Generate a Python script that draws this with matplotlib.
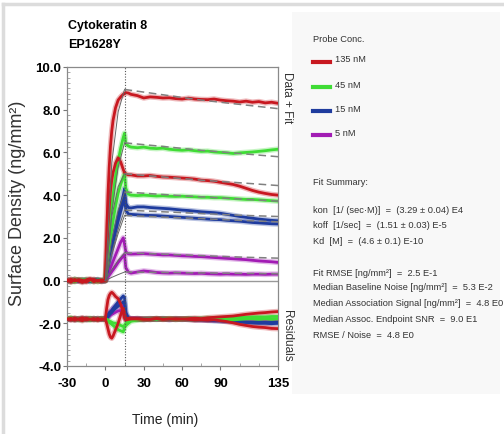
import matplotlib.pyplot as plt
from matplotlib.patches import Rectangle
from matplotlib.lines import Line2D
from matplotlib.ticker import MultipleLocator, FixedLocator

plt.rcParams['font.family'] = ['Liberation Sans', 'DejaVu Sans']
plt.rcParams['axes.unicode_minus'] = False

# time grid shared by all sensorgram traces (min)
time_min = [-30, -27, -24, -21, -18, -15, -12, -9, -6, -3, 0,
            1, 2, 3, 4, 5, 6, 8, 10, 12, 14, 15,
            16, 18, 20, 25, 30, 35, 40, 45, 50, 55, 60, 65, 70, 75, 80, 85, 90,
            95, 100, 105, 110, 115, 120, 125, 130, 135]

red_a = [0.05, -0.08, 0.06, -0.02, -0.09, 0.04, 0.08, -0.06, 0.02, -0.05, 0.0,
         2.0, 4.0, 5.3, 6.3, 7.0, 7.5, 8.1, 8.45, 8.6, 8.72, 8.75,
         8.8, 8.78, 8.72, 8.66, 8.55, 8.6, 8.58, 8.55, 8.56, 8.52, 8.5, 8.54, 8.5,
         8.48, 8.47, 8.5, 8.45, 8.42, 8.4, 8.36, 8.4, 8.35, 8.38, 8.32, 8.35, 8.3]
red_b = [-0.04, 0.07, -0.03, 0.05, 0.02, -0.07, 0.03, 0.06, -0.04, 0.03, 0.0,
         1.3, 2.5, 3.4, 4.2, 4.7, 5.05, 5.5, 5.75, 5.55, 5.2, 5.05,
         5.0, 4.95, 4.95, 4.9, 4.9, 4.92, 4.88, 4.85, 4.84, 4.82, 4.8, 4.78, 4.75,
         4.7, 4.68, 4.65, 4.6, 4.55, 4.5, 4.42, 4.32, 4.22, 4.14, 4.08, 4.03, 4.0]
green_a = [0.03, -0.05, 0.07, 0.01, -0.04, 0.06, -0.02, 0.04, -0.06, 0.02, 0.0,
           0.8, 1.6, 2.3, 3.0, 3.5, 4.0, 4.9, 5.6, 6.2, 6.7, 6.9,
           6.4, 6.3, 6.25, 6.22, 6.25, 6.2, 6.18, 6.2, 6.15, 6.12, 6.1, 6.12, 6.08,
           6.05, 6.06, 6.02, 6.0, 5.98, 5.95, 5.98, 6.0, 6.02, 6.05, 6.08, 6.12, 6.15]
green_b = [-0.02, 0.04, -0.06, 0.03, 0.05, -0.03, 0.02, -0.05, 0.04, -0.02, 0.0,
           0.5, 1.0, 1.5, 2.0, 2.4, 2.8, 3.5, 4.1, 4.5, 4.85, 5.0,
           4.3, 4.05, 4.0, 3.98, 4.0, 3.98, 3.96, 3.97, 3.95, 3.94, 3.95, 3.93, 3.92,
           3.9, 3.9, 3.88, 3.88, 3.86, 3.84, 3.82, 3.8, 3.8, 3.78, 3.76, 3.74, 3.72]
blue_a = [0.02, -0.04, 0.05, -0.03, 0.03, 0.01, -0.05, 0.04, 0.02, -0.03, 0.0,
          0.35, 0.7, 1.0, 1.35, 1.65, 1.95, 2.5, 3.0, 3.5, 4.0, 4.3,
          3.6, 3.42, 3.4, 3.45, 3.45, 3.42, 3.4, 3.38, 3.36, 3.33, 3.3, 3.28, 3.25,
          3.22, 3.2, 3.18, 3.15, 3.1, 3.05, 3.0, 2.96, 2.92, 2.88, 2.85, 2.82, 2.8]
blue_b = [-0.03, 0.02, -0.02, 0.04, -0.05, 0.03, 0.02, -0.03, 0.05, -0.02, 0.0,
          0.3, 0.62, 0.9, 1.2, 1.5, 1.78, 2.3, 2.8, 3.25, 3.65, 3.85,
          3.3, 3.12, 3.1, 3.08, 3.06, 3.05, 3.04, 3.02, 3.0, 2.98, 2.96, 2.94, 2.92,
          2.9, 2.88, 2.86, 2.85, 2.82, 2.8, 2.78, 2.75, 2.72, 2.7, 2.68, 2.66, 2.65]
purple_a = [0.02, 0.0, -0.03, 0.02, 0.01, -0.02, 0.03, -0.01, 0.02, -0.02, 0.0,
            0.15, 0.3, 0.45, 0.6, 0.75, 0.9, 1.2, 1.5, 1.8, 2.0, 1.7,
            1.35, 1.25, 1.24, 1.25, 1.26, 1.24, 1.22, 1.2, 1.2, 1.18, 1.16, 1.15, 1.13,
            1.12, 1.1, 1.08, 1.06, 1.04, 1.02, 1.0, 0.98, 0.95, 0.92, 0.9, 0.88, 0.85]
purple_b = [-0.01, 0.02, 0.01, -0.02, 0.02, 0.0, -0.01, 0.02, -0.02, 0.01, 0.0,
            0.08, 0.16, 0.25, 0.33, 0.42, 0.5, 0.67, 0.85, 1.0, 1.15, 1.2,
            0.6, 0.4, 0.35, 0.4, 0.45, 0.42, 0.38, 0.36, 0.35, 0.36, 0.35, 0.34, 0.33,
            0.34, 0.32, 0.31, 0.3, 0.31, 0.3, 0.3, 0.29, 0.3, 0.3, 0.29, 0.3, 0.3]

# residuals, drawn offset below the sensorgrams
res_red_a = [-1.78, -1.85, -1.75, -1.82, -1.88, -1.76, -1.8, -1.84, -1.77, -1.83, -1.8,
             -1.3, -0.9, -0.7, -0.6, -0.55, -0.6, -0.75, -0.85, -1.1, -1.5, -1.75,
             -1.85, -1.82, -1.8, -1.78, -1.8, -1.82, -1.78, -1.8, -1.79, -1.82, -1.8, -1.78, -1.76,
             -1.78, -1.74, -1.72, -1.7, -1.68, -1.66, -1.62, -1.58, -1.55, -1.52, -1.5, -1.47, -1.45]
res_red_b = [-1.82, -1.76, -1.86, -1.79, -1.74, -1.84, -1.81, -1.77, -1.86, -1.78, -1.8,
             -2.0, -2.25, -2.5, -2.65, -2.7, -2.6, -2.3, -2.0, -1.6, -1.3, -1.5,
             -1.8, -1.76, -1.78, -1.8, -1.82, -1.8, -1.78, -1.82, -1.8, -1.78, -1.8, -1.82, -1.85,
             -1.84, -1.86, -1.84, -1.88, -1.92, -1.98, -2.05, -2.1, -2.15, -2.18, -2.2, -2.24, -2.25]
res_green_a = [-1.8, -1.74, -1.83, -1.78, -1.85, -1.79, -1.76, -1.82, -1.8, -1.77, -1.8,
               -1.85, -1.9, -1.95, -2.0, -2.05, -2.1, -2.2, -2.3, -2.35, -2.4, -2.2,
               -2.1, -2.0, -1.9, -1.85, -1.82, -1.8, -1.82, -1.8, -1.78, -1.8, -1.8, -1.78, -1.8,
               -1.78, -1.76, -1.78, -1.76, -1.75, -1.74, -1.72, -1.72, -1.7, -1.7, -1.7, -1.68, -1.68]
res_green_b = [-1.77, -1.82, -1.79, -1.84, -1.78, -1.81, -1.85, -1.78, -1.82, -1.8, -1.8,
               -1.8, -1.85, -1.9, -1.92, -1.95, -1.98, -2.0, -2.05, -2.1, -2.15, -2.1,
               -2.0, -1.9, -1.85, -1.82, -1.8, -1.8, -1.78, -1.8, -1.8, -1.82, -1.8, -1.8, -1.82,
               -1.8, -1.82, -1.8, -1.82, -1.82, -1.84, -1.82, -1.8, -1.8, -1.82, -1.8, -1.82, -1.8]
res_blue_a = [-1.81, -1.78, -1.84, -1.8, -1.77, -1.83, -1.79, -1.82, -1.78, -1.81, -1.8,
              -1.7, -1.6, -1.5, -1.45, -1.4, -1.3, -1.15, -1.0, -0.85, -0.72, -0.8,
              -1.5, -1.75, -1.8, -1.78, -1.8, -1.82, -1.8, -1.78, -1.8, -1.8, -1.82, -1.8, -1.8,
              -1.82, -1.84, -1.86, -1.88, -1.9, -1.92, -1.94, -1.96, -1.98, -2.0, -2.0, -2.02, -2.0]
res_blue_b = [-1.79, -1.82, -1.78, -1.81, -1.83, -1.79, -1.8, -1.78, -1.82, -1.79, -1.8,
              -1.75, -1.7, -1.62, -1.55, -1.5, -1.42, -1.3, -1.2, -1.1, -1.0, -1.1,
              -1.6, -1.78, -1.8, -1.8, -1.82, -1.8, -1.8, -1.8, -1.82, -1.8, -1.8, -1.82, -1.84,
              -1.84, -1.86, -1.88, -1.88, -1.9, -1.9, -1.92, -1.94, -1.95, -1.95, -1.96, -1.96, -1.95]
res_purple_a = [-1.8, -1.82, -1.79, -1.81, -1.8, -1.78, -1.82, -1.8, -1.81, -1.79, -1.8,
                -1.72, -1.65, -1.55, -1.45, -1.38, -1.3, -1.2, -1.1, -1.15, -1.2, -1.5,
                -1.75, -1.8, -1.8, -1.82, -1.8, -1.78, -1.8, -1.8, -1.82, -1.8, -1.8, -1.8, -1.82,
                -1.82, -1.84, -1.84, -1.85, -1.86, -1.86, -1.87, -1.88, -1.88, -1.88, -1.87, -1.86, -1.86]
res_purple_b = [-1.81, -1.79, -1.8, -1.82, -1.79, -1.8, -1.81, -1.79, -1.8, -1.81, -1.8,
                -1.76, -1.72, -1.68, -1.62, -1.58, -1.55, -1.48, -1.42, -1.4, -1.45, -1.6,
                -1.82, -1.8, -1.8, -1.8, -1.82, -1.8, -1.8, -1.8, -1.82, -1.8, -1.8, -1.8, -1.82,
                -1.82, -1.8, -1.82, -1.82, -1.84, -1.84, -1.84, -1.84, -1.84, -1.83, -1.83, -1.82, -1.82]

# global fit curves
fit_assoc_t = [0, 5, 10, 15]
fit_dissoc_t = [15, 45, 75, 105, 135]
fit_red_a = ([0, 5.5, 7.9, 8.95], [8.95, 8.7, 8.45, 8.25, 8.05])
fit_red_b = ([0, 3.0, 4.4, 5.0], [5.0, 4.85, 4.7, 4.58, 4.45])
fit_green_a = ([0, 3.2, 5.3, 6.45], [6.45, 6.28, 6.1, 5.95, 5.8])
fit_green_b = ([0, 1.9, 3.3, 4.15], [4.15, 4.03, 3.92, 3.82, 3.72])
fit_blue_a = ([0, 1.3, 2.4, 3.3], [3.3, 3.22, 3.14, 3.06, 3.0])
fit_blue_b = ([0, 1.2, 2.2, 3.05], [3.05, 2.97, 2.9, 2.82, 2.75])
fit_purple_a = ([0, 0.5, 0.95, 1.3], [1.3, 1.24, 1.17, 1.1, 1.05])
fit_purple_b = ([0, 0.15, 0.28, 0.4], [0.4, 0.38, 0.36, 0.34, 0.32])

conc_labels = ['135 nM', '45 nM', '15 nM', '5 nM']
conc_colors = ['#c81820', '#3fdc35', '#1f3c9e', '#a21cb4']

summary_lines = [
    'kon  [1/ (sec·M)]  =  (3.29 ± 0.04) E4',
    'koff  [1/sec]  =  (1.51 ± 0.03) E-5',
    'Kd  [M]  =  (4.6 ± 0.1) E-10',
    '',
    'Fit RMSE [ng/mm²]  =  2.5 E-1',
    'Median Baseline Noise [ng/mm²]  =  5.3 E-2',
    'Median Association Signal [ng/mm²]  =  4.8 E0',
    'Median Assoc. Endpoint SNR  =  9.0 E1',
    'RMSE / Noise  =  4.8 E0',
]

W, H = 504, 435
fig = plt.figure(figsize=(W / 100, H / 100), dpi=100)

# page frame and side panel background
fig.add_artist(Line2D([3 / W, 503 / W], [1 - 5 / H, 1 - 5 / H], color='#dcdcdc', lw=2.5))
fig.add_artist(Line2D([3 / W, 3 / W], [0, 1 - 5 / H], color='#dcdcdc', lw=2.5))
fig.add_artist(Rectangle((292 / W, 1 - 395 / H), 208 / W, 382 / H, facecolor='#f8f8f8',
                         edgecolor='none', zorder=0))

ax = fig.add_axes([67 / W, 1 - 367 / H, 211 / W, 299 / H])

curves = [
    (purple_a, res_purple_a, fit_purple_a, 3),
    (purple_b, res_purple_b, fit_purple_b, 3),
    (blue_a, res_blue_a, fit_blue_a, 2),
    (blue_b, res_blue_b, fit_blue_b, 2),
    (green_a, res_green_a, fit_green_a, 1),
    (green_b, res_green_b, fit_green_b, 1),
    (red_a, res_red_a, fit_red_a, 0),
    (red_b, res_red_b, fit_red_b, 0),
]

for data, res, fit, ci in curves:
    c = conc_colors[ci]
    for y in (data, res):
        ax.plot(time_min, y, color=c, lw=4, alpha=0.3, solid_capstyle='round', zorder=2)
        ax.plot(time_min, y, color=c, lw=2.0, solid_capstyle='round', zorder=3)

for data, res, fit, ci in curves:
    ax.plot(fit_assoc_t, fit[0], color='#666666', lw=0.7, zorder=4)
    ax.plot(fit_dissoc_t, fit[1], color='#808080', lw=1.1, dashes=(5, 3), zorder=4)

ax.axhline(0, color='#999999', lw=1.0, zorder=1)
ax.axvline(15, color='#555555', lw=0.8, ls=(0, (1, 1.5)), zorder=5)

ax.set_xlim(-30, 135)
ax.set_ylim(-4, 10)
ax.xaxis.set_major_locator(FixedLocator([-30, 0, 30, 60, 90, 135]))
ax.xaxis.set_minor_locator(FixedLocator([-15, 15, 45, 75, 105, 120]))
ax.yaxis.set_major_locator(MultipleLocator(2))
ax.yaxis.set_minor_locator(MultipleLocator(0.25))
ax.set_yticklabels(['%.1f' % v for v in ax.get_yticks()])
for lab in ax.get_xticklabels() + ax.get_yticklabels():
    lab.set_fontweight('bold')
    lab.set_fontsize(9.5)
ax.tick_params(which='major', direction='out', length=3, width=0.8, color='#777777')
ax.tick_params(axis='y', which='major', pad=1)
ax.tick_params(axis='x', which='major', pad=5)
ax.tick_params(which='minor', direction='in', length=2.5, width=0.6, color='#999999')
for s in ax.spines.values():
    s.set_color('#8a8a8a')
    s.set_linewidth(0.9)

fig.text(68 / W, 1 - 26 / H, 'Cytokeratin 8', fontsize=9, fontweight='bold', va='center')
fig.text(68 / W, 1 - 45 / H, 'EP1628Y', fontsize=9, fontweight='bold', va='center')
fig.text(18 / W, 1 - 203 / H, 'Surface Density (ng/mm²)', fontsize=13, rotation=90,
         ha='center', va='center', color='#333333')
fig.text(165 / W, 1 - 420 / H, 'Time (min)', fontsize=10, ha='center', va='center',
         color='#222222')
fig.text(287 / W, 1 - 98 / H, 'Data + Fit', fontsize=8.5, rotation=270, ha='center',
         va='center', color='#333333')
fig.text(287 / W, 1 - 336 / H, 'Residuals', fontsize=8.5, rotation=270, ha='center',
         va='center', color='#333333')

# legend panel
PS = 6.7
fig.text(313 / W, 1 - 40 / H, 'Probe Conc.', fontsize=PS, va='center', color='#333333')
leg_y = [63, 88, 112, 136]
for lab, c, yy in zip(conc_labels, conc_colors, leg_y):
    fig.add_artist(Line2D([313 / W, 330 / W], [1 - yy / H, 1 - yy / H], color=c, lw=3))
    fig.text(335 / W, 1 - (yy - 3) / H, lab, fontsize=PS, va='center', color='#333333')

fig.text(313 / W, 1 - 183 / H, 'Fit Summary:', fontsize=PS, va='center', color='#333333')
line_y = [211, 226, 242, 257, 273, 288, 304, 320, 336]
for txt, yy in zip(summary_lines, line_y):
    if txt:
        fig.text(313 / W, 1 - yy / H, txt, fontsize=PS, va='center', color='#333333')

fig.savefig('out.png', dpi=100)
